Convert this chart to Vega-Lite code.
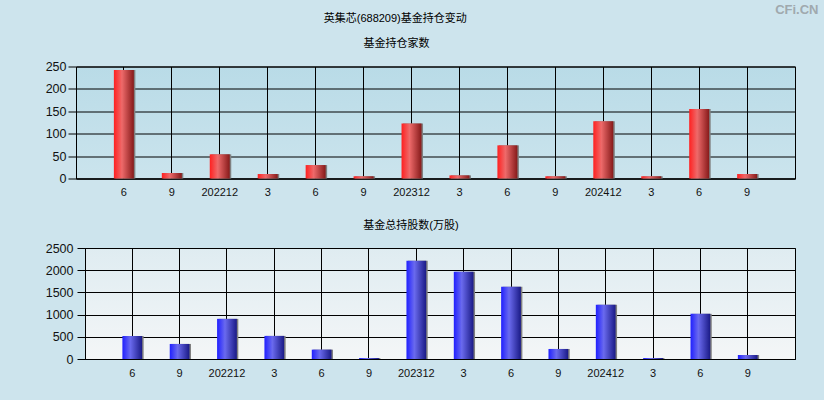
{
  "$schema": "https://vega.github.io/schema/vega-lite/v6.json",
  "background": "#cde4ed",
  "padding": {"left": 43, "top": 3.5, "right": 5, "bottom": 24},
  "title": {"text": "CFi.CN", "anchor": "end", "fontSize": 13, "font": "Liberation Sans", "fontWeight": "bold", "color": "#a0a9ae", "offset": -4, "dx": 23},
  "datasets": {
    "fund": [
      {"q": "2022-06", "count": 242, "shares": 520},
      {"q": "2022-09", "count": 12, "shares": 339},
      {"q": "2022-12", "count": 54, "shares": 904},
      {"q": "2023-03", "count": 10, "shares": 520},
      {"q": "2023-06", "count": 30, "shares": 211},
      {"q": "2023-09", "count": 5, "shares": 23},
      {"q": "2023-12", "count": 123, "shares": 2214},
      {"q": "2024-03", "count": 7, "shares": 1965},
      {"q": "2024-06", "count": 74, "shares": 1627},
      {"q": "2024-09", "count": 5, "shares": 226},
      {"q": "2024-12", "count": 128, "shares": 1220},
      {"q": "2025-03", "count": 5, "shares": 23},
      {"q": "2025-06", "count": 155, "shares": 1017},
      {"q": "2025-09", "count": 10, "shares": 90}
    ],
    "empty": []
  },
  "vconcat": [
    {
      "title": {"text": "英集芯(688209)基金持仓变动", "anchor": "middle", "offset": 13.5, "dx": -24},
      "spacing": 20.5,
      "vconcat": [
        {
          "spacing": 0,
          "hconcat": [
            {"data": {"name": "empty"}, "mark": "rect", "width": 1, "height": 1, "view": {"stroke": null, "fill": null}},
            {
              "title": {"text": "基金持仓家数", "offset": 11.5, "dx": -39},
              "width": 719,
              "height": 112,
              "data": {"name": "fund"},
              "view": {"fill": {"gradient": "linear", "x1": 0, "y1": 0, "x2": 0, "y2": 1, "stops": [{"offset": 0, "color": "#b9dbe7"}, {"offset": 1, "color": "#cbe4ed"}]}, "stroke": "#000000", "strokeWidth": 1},
              "encoding": {
                "x": {"field": "q", "type": "ordinal", "sort": null, "title": null,
                      "scale": {"paddingInner": 0.583, "paddingOuter": 0.79},
                      "axis": {"labelExpr": "slice(datum.value,5,7)=='12' ? replace(datum.value,'-','') : '' + toNumber(slice(datum.value,5,7))", "labelAngle": 0, "grid": true, "bandPosition": 0.5, "ticks": false, "labelPadding": 8, "labelFontSize": 11}},
                "y": {"field": "count", "type": "quantitative", "title": null,
                      "scale": {"domain": [0, 250]},
                      "axis": {"values": [0, 50, 100, 150, 200, 250], "format": "d", "tickSize": 8, "labelPadding": 2, "labelFontSize": 12.5}}
              },
              "layer": [
                {"mark": {"type": "bar", "color": "#808080", "xOffset": 1.5}},
                {"mark": {"type": "bar", "fill": {"gradient": "linear", "x1": 0, "y1": 0, "x2": 1, "y2": 0, "stops": [{"offset": 0, "color": "#ff2020"}, {"offset": 0.4, "color": "#ee6a6a"}, {"offset": 1, "color": "#861a1a"}]}}}
              ]
            }
          ]
        },
        {
          "spacing": 0,
          "hconcat": [
            {"data": {"name": "empty"}, "mark": "rect", "width": 1, "height": 1, "view": {"stroke": null, "fill": null}},
            {
              "title": {"text": "基金总持股数(万股)", "offset": 11, "dx": -29},
              "width": 710,
              "height": 111,
              "data": {"name": "fund"},
              "view": {"fill": {"gradient": "linear", "x1": 0, "y1": 0, "x2": 0, "y2": 1, "stops": [{"offset": 0, "color": "#dfecf1"}, {"offset": 1, "color": "#f4f6f7"}]}, "stroke": "#000000", "strokeWidth": 1},
              "encoding": {
                "x": {"field": "q", "type": "ordinal", "sort": null, "title": null,
                      "scale": {"paddingInner": 0.583, "paddingOuter": 0.79},
                      "axis": {"labelExpr": "slice(datum.value,5,7)=='12' ? replace(datum.value,'-','') : '' + toNumber(slice(datum.value,5,7))", "labelAngle": 0, "grid": true, "bandPosition": 0.5, "ticks": false, "labelPadding": 8, "labelFontSize": 11}},
                "y": {"field": "shares", "type": "quantitative", "title": null,
                      "scale": {"domain": [0, 2500]},
                      "axis": {"values": [0, 500, 1000, 1500, 2000, 2500], "format": "d", "tickSize": 8, "labelPadding": 4, "labelFontSize": 12.5}}
              },
              "layer": [
                {"mark": {"type": "bar", "color": "#808080", "xOffset": 1.5}},
                {"mark": {"type": "bar", "fill": {"gradient": "linear", "x1": 0, "y1": 0, "x2": 1, "y2": 0, "stops": [{"offset": 0, "color": "#2020ff"}, {"offset": 0.4, "color": "#6a6aee"}, {"offset": 1, "color": "#1a1a86"}]}}}
              ]
            }
          ]
        }
      ]
    }
  ],
  "config": {
    "title": {"font": "Liberation Sans, Noto Sans CJK SC", "fontSize": 11, "fontWeight": "normal", "color": "#000000"},
    "axis": {"labelFont": "Liberation Sans", "labelColor": "#111111", "domainColor": "#000000", "gridColor": "#000000", "gridOpacity": 1, "gridWidth": 1, "tickColor": "#000000"}
  }
}
